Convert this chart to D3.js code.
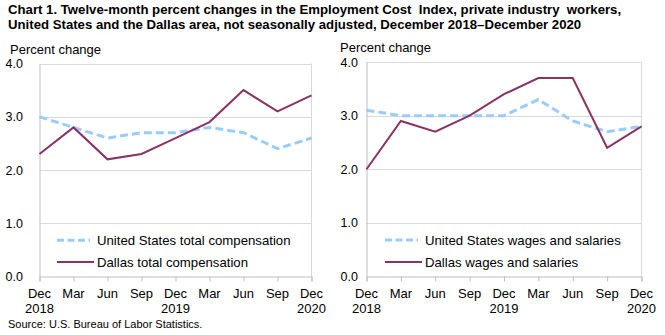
<!DOCTYPE html>
<meta charset="utf-8">
<style>
  body { margin: 0; background: #fff; }
  svg { display: block; font-family: "Liberation Sans", Arial, sans-serif; }
  .grid line { stroke: #d9d9d9; stroke-width: 1; }
  .title { font-weight: bold; font-size: 13.2px; white-space: pre; }
</style>
<body>
<svg width="665" height="335"></svg>
<script src="https://d3js.org/d3.v7.min.js"></script>
<script>
  var periods = ["Dec 2018", "Mar", "Jun", "Sep", "Dec 2019", "Mar", "Jun", "Sep", "Dec 2020"];
  var monthLabels = ["Dec", "Mar", "Jun", "Sep", "Dec", "Mar", "Jun", "Sep", "Dec"];
  var yearLabels = ["2018", "", "", "", "2019", "", "", "", "2020"];
  var yTicks = [0, 1, 2, 3, 4];

  var usTotalComp = [3.0, 2.8, 2.6, 2.7, 2.7, 2.8, 2.7, 2.4, 2.6];
  var dallasTotalComp = [2.3, 2.8, 2.2, 2.3, 2.6, 2.9, 3.5, 3.1, 3.4];
  var usWages = [3.1, 3.0, 3.0, 3.0, 3.0, 3.3, 2.9, 2.7, 2.8];
  var dallasWages = [2.0, 2.9, 2.7, 3.0, 3.4, 3.7, 3.7, 2.4, 2.8];

  var svg = d3.select("svg");

  svg.append("text").attr("class", "title").attr("x", 8).attr("y", 14)
    .text("Chart 1. Twelve-month percent changes in the Employment Cost  Index, private industry  workers,");
  svg.append("text").attr("class", "title").attr("x", 8).attr("y", 29)
    .text("United States and the Dallas area, not seasonally adjusted, December 2018\u2013December 2020");

  svg.append("text").attr("x", 8).attr("y", 328).style("font-size", "11px")
    .text("Source: U.S. Bureau of Labor Statistics.");

  function drawPanel(p) {
    var x = d3.scalePoint().domain(d3.range(periods.length)).range([p.left, p.right]);
    var y = d3.scaleLinear().domain([0, 4]).range([p.bottom, p.top]);

    svg.append("text").attr("x", p.labelX).attr("y", p.top - 10)
      .style("font-size", "13px").text("Percent change");

    // gridlines
    svg.append("g").attr("class", "grid")
      .selectAll("line").data(yTicks.slice(1)).enter().append("line")
      .attr("x1", p.left).attr("x2", p.right)
      .attr("y1", function(d) { return Math.round(y(d)) + 0.5; })
      .attr("y2", function(d) { return Math.round(y(d)) + 0.5; });

    // right border
    svg.append("line").attr("x1", p.right).attr("x2", p.right)
      .attr("y1", y(4)).attr("y2", y(0)).attr("stroke", "#d9d9d9");

    // y axis
    var ya = svg.append("g").attr("transform", "translate(" + p.left + ",0)")
      .call(d3.axisLeft(y).tickValues(yTicks).tickSize(0).tickPadding(p.left - p.labelRight)
        .tickFormat(d3.format(".1f")));
    ya.select(".domain").attr("stroke", "#bfbfbf");
    ya.selectAll("text").style("font-size", "12.5px").style("font-family", "Liberation Sans, Arial").attr("fill", "#000");

    // x axis
    var xa = svg.append("g").attr("transform", "translate(0," + p.bottom + ")")
      .call(d3.axisBottom(x).tickSize(5).tickFormat(""));
    xa.select(".domain").attr("stroke", "#bfbfbf");
    xa.selectAll(".tick line").attr("stroke", "#bfbfbf");

    svg.append("g").selectAll("text").data(monthLabels).enter().append("text")
      .attr("x", function(d, i) { return x(i); }).attr("y", p.bottom + 21)
      .attr("text-anchor", "middle").style("font-size", "13px").text(function(d) { return d; });
    svg.append("g").selectAll("text").data(yearLabels).enter().append("text")
      .attr("x", function(d, i) { return x(i); }).attr("y", p.bottom + 36)
      .attr("text-anchor", "middle").style("font-size", "13px").text(function(d) { return d; });

    var line = d3.line().x(function(d, i) { return x(i); }).y(function(d) { return y(d); });

    svg.append("path").datum(p.us).attr("d", line)
      .attr("fill", "none").attr("stroke", "#99ccff").attr("stroke-width", 3)
      .attr("stroke-dasharray", "8,4");
    svg.append("path").datum(p.dallas).attr("d", line)
      .attr("fill", "none").attr("stroke", "#8c3263").attr("stroke-width", 2);

    // legend
    var lg = svg.append("g");
    lg.append("line").attr("x1", p.legendX).attr("x2", p.legendX + 33)
      .attr("y1", y(0.68)).attr("y2", y(0.68))
      .attr("stroke", "#99ccff").attr("stroke-width", 3).attr("stroke-dasharray", "7,3.5");
    lg.append("text").attr("x", p.legendX + 40).attr("y", y(0.68) + 5)
      .style("font-size", "13.2px").text(p.usLabel);
    lg.append("line").attr("x1", p.legendX).attr("x2", p.legendX + 37)
      .attr("y1", y(0.27)).attr("y2", y(0.27))
      .attr("stroke", "#8c3263").attr("stroke-width", 2);
    lg.append("text").attr("x", p.legendX + 40).attr("y", y(0.27) + 5)
      .style("font-size", "13.2px").text(p.dallasLabel);
  }

  drawPanel({
    left: 39.5, right: 311.5, top: 63.5, bottom: 276.5,
    labelX: 10, labelRight: 23,
    legendX: 57,
    us: usTotalComp, dallas: dallasTotalComp,
    usLabel: "United States total compensation",
    dallasLabel: "Dallas total compensation"
  });

  drawPanel({
    left: 366.5, right: 641.5, top: 62, bottom: 276.5,
    labelX: 340, labelRight: 358,
    legendX: 385,
    us: usWages, dallas: dallasWages,
    usLabel: "United States wages and salaries",
    dallasLabel: "Dallas wages and salaries"
  });
</script>
</body>
